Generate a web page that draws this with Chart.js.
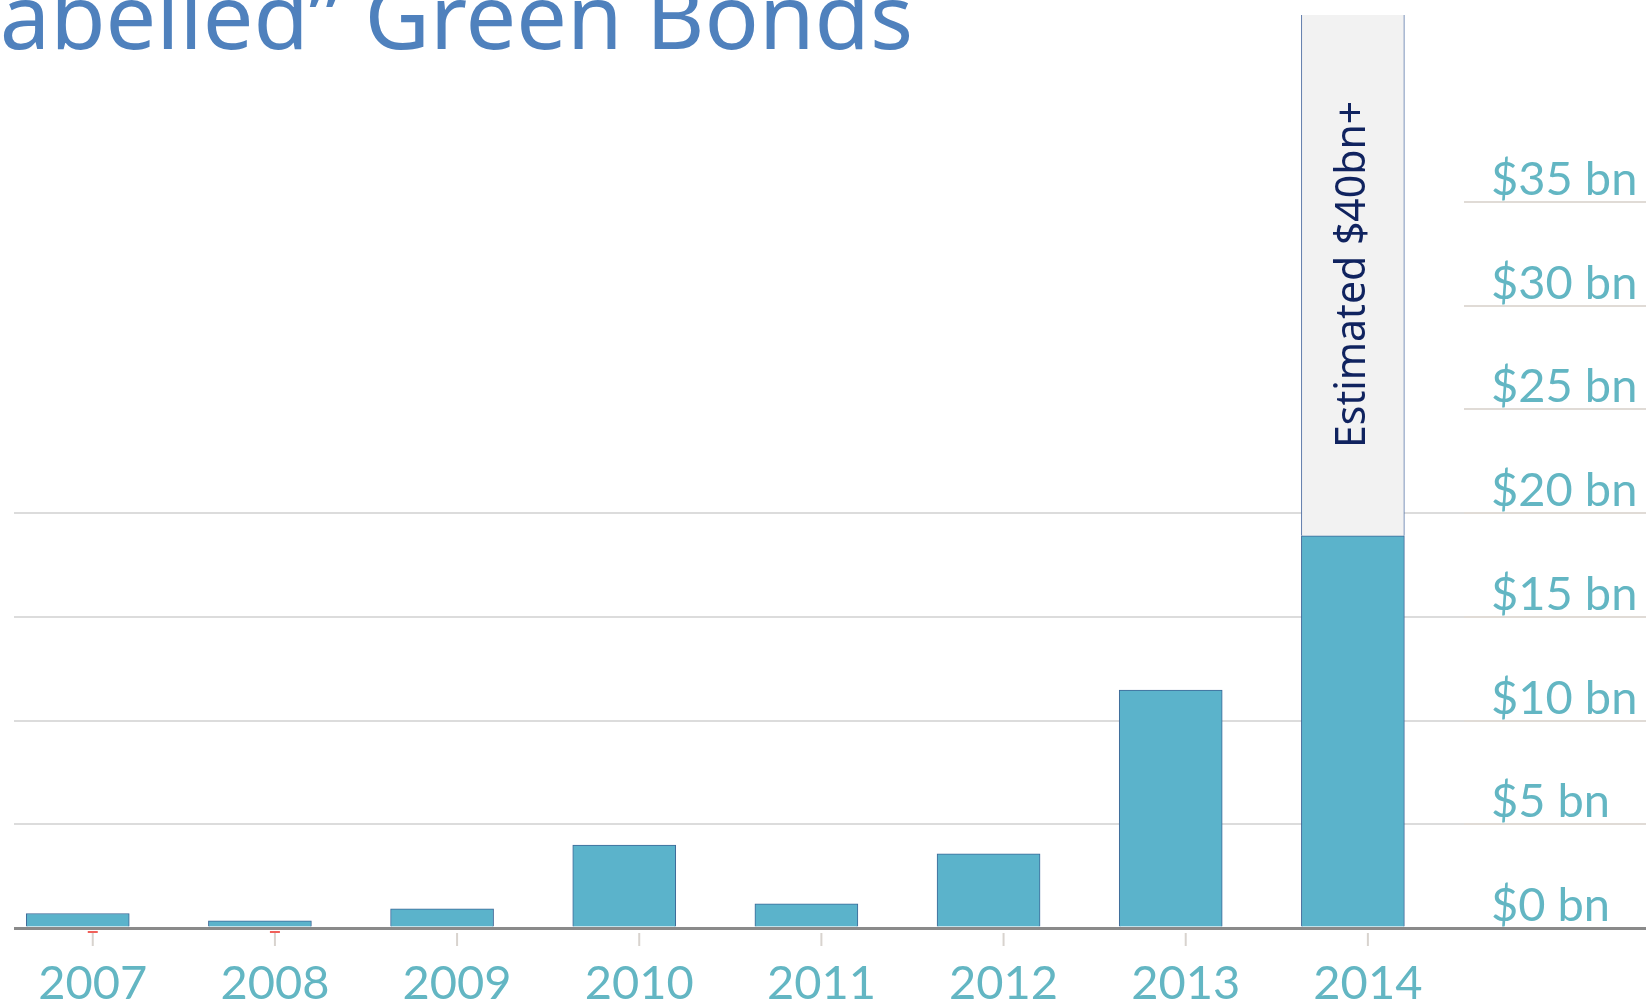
<!DOCTYPE html>
<html>
<head>
<meta charset="utf-8">
<title>Labelled Green Bonds</title>
<script src="https://cdn.jsdelivr.net/npm/chart.js@4.4.1/dist/chart.umd.min.js"></script>
<style>
  html, body { margin: 0; padding: 0; background: #fff; }
  #wrap { position: relative; width: 1646px; height: 1005px; }
</style>
</head>
<body>
<div id="wrap"><canvas id="bondsChart"></canvas></div>
<script>
// values ($ bn)
var years = ['2007', '2008', '2009', '2010', '2011', '2012', '2013', '2014'];
var issued = [0.7, 0.34, 0.92, 4.0, 1.16, 3.57, 11.47, 18.9];
var estimatedExtra = [null, null, null, null, null, null, null, 25.2];
var yTickValues = [0, 5, 10, 15, 20, 25, 30, 35];
var flaggedYears = ['2007', '2008'];
var titleText = '\u201CLabelled\u201D Green Bonds';
var estimateLabel = 'Estimated $40bn+';

var labelColor = '#63b6c3';
var labelFont = { family: 'Lato', size: 47, weight: 'normal' };

document.addEventListener("DOMContentLoaded", function() {
    var ctx = document.getElementById('bondsChart').getContext('2d');

    // big cut-off heading at the top left
    var headingPlugin = {
        id: 'heading',
        beforeDraw: function(chart) {
            var c = chart.ctx;
            c.save();
            c.fillStyle = '#ffffff';
            c.fillRect(0, 0, chart.width, chart.height);
            c.fillStyle = '#4f81bd';
            c.font = '90px "Noto Sans"';
            c.textAlign = 'right';
            c.textBaseline = 'alphabetic';
            c.fillText(titleText, 913, 49);
            c.restore();
        }
    };

    // small tick marks under the year labels
    var yearTicks = {
        id: 'yearTicks',
        afterDraw: function(chart) {
            var c = chart.ctx;
            var xs = chart.scales.x;
            var off = xs.options.ticks.labelOffset;
            var top = chart.chartArea.bottom;
            c.save();
            xs.ticks.forEach(function(t) {
                var x = xs.getPixelForValue(t.value) + off;
                c.strokeStyle = '#d8d3ce';
                c.lineWidth = 2;
                c.beginPath();
                c.moveTo(x, top + 5);
                c.lineTo(x, top + 18);
                c.stroke();
                if (flaggedYears.indexOf(years[t.value]) !== -1) {
                    c.strokeStyle = '#f0605a';
                    c.beginPath();
                    c.moveTo(x - 5, top + 4);
                    c.lineTo(x + 5, top + 4);
                    c.stroke();
                }
            });
            c.restore();
        }
    };

    // rotated note inside the estimated part of the bar
    var estimateNote = {
        id: 'estimateNote',
        afterDatasetsDraw: function(chart) {
            var c = chart.ctx;
            var meta = chart.getDatasetMeta(1);
            meta.data.forEach(function(bar, i) {
                if (estimatedExtra[i] == null) return;
                c.save();
                c.translate(bar.x, (bar.y + bar.base) / 2);
                c.rotate(-Math.PI / 2);
                c.textAlign = 'center';
                c.textBaseline = 'middle';
                c.fillStyle = '#10235f';
                c.font = '41px "Noto Sans"';
                c.fillText(estimateLabel, 0, 0);
                c.restore();
            });
        }
    };

    var bondsChart = new Chart(ctx, {
        type: 'bar',
        data: {
            datasets: [
                {
                    label: 'Issued',
                    data: issued.map(function(v, i) { return { x: i, y: v }; }),
                    backgroundColor: '#5bb3cb',
                    borderColor: '#3d6797',
                    borderWidth: 1,
                    barThickness: 103
                },
                {
                    label: 'Estimated',
                    data: estimatedExtra.map(function(v, i) { return { x: i, y: v }; }),
                    backgroundColor: '#f2f2f2',
                    borderColor: '#5876a8',
                    borderWidth: 1,
                    barThickness: 103
                }
            ]
        },
        options: {
            responsive: true,
            maintainAspectRatio: false,
            animation: false,
            layout: { padding: { left: 14, top: 15, right: 0, bottom: 0 } },
            plugins: {
                legend: { display: false },
                tooltip: { enabled: false }
            },
            scales: {
                x: {
                    type: 'linear',
                    offset: false,
                    min: -0.35,
                    max: 7.61,
                    stacked: true,
                    afterBuildTicks: function(scale) {
                        scale.ticks = years.map(function(y, i) { return { value: i }; });
                    },
                    afterFit: function(scale) {
                        scale.height = 77;
                        scale.paddingLeft = 0;
                        scale.paddingRight = 0;
                    },
                    grid: { display: false, drawTicks: false },
                    border: { display: false },
                    ticks: {
                        callback: function(value) { return years[value]; },
                        labelOffset: 15,
                        padding: 28,
                        maxRotation: 0,
                        autoSkip: false,
                        color: labelColor,
                        font: labelFont
                    }
                },
                y: {
                    position: 'right',
                    stacked: true,
                    min: 0,
                    max: 44,
                    afterBuildTicks: function(scale) {
                        scale.ticks = yTickValues.map(function(v) { return { value: v }; });
                    },
                    afterFit: function(scale) {
                        scale.width = 182;
                        scale.paddingTop = 0;
                        scale.paddingBottom = 0;
                    },
                    grid: {
                        color: function(c) {
                            var v = c.tick.value;
                            if (v === 0) return '#8a8a8a';
                            return v <= 20 ? '#dcdcdc' : 'rgba(0,0,0,0)';
                        },
                        lineWidth: function(c) { return c.tick.value === 0 ? 3 : 2; },
                        tickColor: function(c) { return c.tick.value === 0 ? '#8a8a8a' : '#e0dbd6'; },
                        tickLength: 182,
                        drawTicks: true
                    },
                    border: { display: false },
                    ticks: {
                        callback: function(value) { return '$' + value + ' bn'; },
                        padding: -155,
                        labelOffset: -22,
                        color: labelColor,
                        font: labelFont
                    }
                }
            }
        },
        plugins: [headingPlugin, yearTicks, estimateNote]
    });
});
</script>
</body>
</html>
